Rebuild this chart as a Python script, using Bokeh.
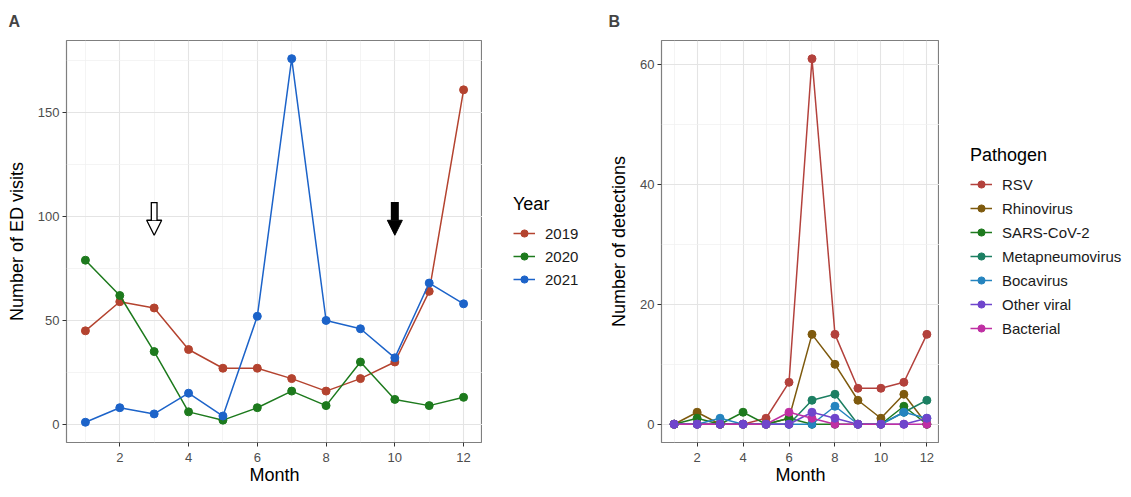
from bokeh.plotting import figure
from bokeh.layouts import row
from bokeh.models import FixedTicker, Legend, LegendItem, Range1d, Arrow, NormalHead
from bokeh.embed import file_html
from bokeh.resources import INLINE

FONT = "Liberation Sans"

months = list(range(1, 13))

# Panel A: ED visits per month by year
years = ["2019", "2020", "2021"]
ed_2019 = [45, 59, 56, 36, 27, 27, 22, 16, 22, 30, 64, 161]
ed_2020 = [79, 62, 35, 6, 2, 8, 16, 9, 30, 12, 9, 13]
ed_2021 = [1, 8, 5, 15, 4, 52, 176, 50, 46, 32, 68, 58]
year_colors = ["#B4432F", "#1D7A1D", "#1C63C9"]

# arrows marking months of interest
arrow_months = [3, 10]
arrow_filled = [False, True]
arrow_top = 107
arrow_tip = 91

# Panel B: detections per month by pathogen
pathogens = ["RSV", "Rhinovirus", "SARS-CoV-2", "Metapneumovirus", "Bocavirus", "Other viral", "Bacterial"]
rsv = [0, 0, 0, 0, 1, 7, 61, 15, 6, 6, 7, 15]
rhinovirus = [0, 2, 0, 0, 0, 1, 15, 10, 4, 1, 5, 0]
sars_cov_2 = [0, 1, 0, 2, 0, 1, 0, 0, 0, 0, 3, 0]
metapneumovirus = [0, 0, 0, 0, 0, 0, 4, 5, 0, 0, 2, 4]
bocavirus = [0, 0, 1, 0, 0, 0, 0, 3, 0, 0, 2, 1]
other_viral = [0, 0, 0, 0, 0, 0, 2, 1, 0, 0, 0, 1]
bacterial = [0, 0, 0, 0, 0, 2, 1, 0, 0, 0, 0, 0]
pathogen_colors = ["#B3413C", "#7E5A0E", "#1E7A1E", "#1C7F62", "#2584BF", "#6F45CC", "#BF2FA3"]

x_major = [2, 4, 6, 8, 10, 12]
x_minor = [1, 3, 5, 7, 9, 11]

H = 490
TOP = 40
BOTTOM = 48


def style(p, y_major, y_minor, ylabel, title, offset):
    p.xaxis.ticker = FixedTicker(ticks=x_major, minor_ticks=x_minor)
    p.yaxis.ticker = FixedTicker(ticks=y_major, minor_ticks=y_minor)
    p.xgrid.ticker = p.xaxis.ticker
    p.ygrid.ticker = p.yaxis.ticker
    for g in (p.xgrid, p.ygrid):
        g.grid_line_color = "#E4E4E4"
        g.grid_line_width = 1.1
        g.minor_grid_line_color = "#EFEFEF"
        g.minor_grid_line_width = 0.7
    for ax in (p.xaxis, p.yaxis):
        ax.axis_line_color = None
        ax.major_tick_in = 0
        ax.major_tick_out = 4
        ax.major_tick_line_color = "#333333"
        ax.major_tick_line_width = 1
        ax.minor_tick_line_color = None
        ax.major_label_text_font = FONT
        ax.major_label_text_font_size = "13px"
        ax.major_label_text_color = "#4D4D4D"
        ax.axis_label_text_font = FONT
        ax.axis_label_text_font_size = "18px"
        ax.axis_label_text_font_style = "normal"
        ax.axis_label_text_color = "black"
        ax.major_label_standoff = 3
        ax.axis_label_standoff = 6
    p.xaxis.major_label_standoff = 6
    p.xaxis.axis_label_standoff = 0
    p.yaxis.axis_label_standoff = 8
    p.xaxis.axis_label = "Month"
    p.yaxis.axis_label = ylabel
    p.outline_line_color = "#7F7F7F"
    p.outline_line_width = 1.2
    p.title.text = title
    p.title.text_font = FONT
    p.title.text_font_size = "16px"
    p.title.text_font_style = "bold"
    p.title.align = "left"
    p.title.offset = offset
    p.title.standoff = 21
    p.background_fill_color = "white"
    p.border_fill_color = "white"


def legend_figure(width, title, names, series, colors, spacing):
    lf = figure(width=width, height=H, output_backend="svg", toolbar_location=None,
                x_axis_type=None, y_axis_type=None,
                min_border_left=0, min_border_right=0, min_border_top=TOP, min_border_bottom=BOTTOM)
    lf.outline_line_color = None
    lf.background_fill_color = "white"
    lf.border_fill_color = "white"
    items = []
    for name, vals, col in zip(names, series, colors):
        lr = lf.line(months, vals, line_color=col, line_width=1.5, visible=False)
        sr = lf.scatter(months, vals, size=8, fill_color=col, line_color=col, visible=False)
        items.append(LegendItem(label=name, renderers=[lr, sr]))
    leg = Legend(items=items, title=title, location="left")
    leg.title_text_font = FONT
    leg.title_text_font_size = "18px"
    leg.title_text_font_style = "normal"
    leg.title_text_color = "black"
    leg.title_standoff = 9
    leg.label_text_font = FONT
    leg.label_text_font_size = "15px"
    leg.label_text_color = "#1A1A1A"
    leg.glyph_width = 22
    leg.glyph_height = 18
    leg.label_height = 18
    leg.label_standoff = 10
    leg.spacing = spacing
    leg.border_line_color = None
    leg.background_fill_alpha = 0
    leg.inactive_fill_alpha = 0
    leg.margin = 31
    leg.padding = 10
    lf.add_layout(leg, "center")
    return lf


# ---------- Panel A ----------
pA = figure(width=482, height=H, output_backend="svg", toolbar_location=None,
            x_range=Range1d(0.45, 12.55), y_range=Range1d(-8.75, 184.75),
            min_border_left=66, min_border_right=0, min_border_top=TOP, min_border_bottom=BOTTOM)
style(pA, [0, 50, 100, 150], [25, 75, 125, 175], "Number of ED visits", "A", -58)

seriesA = [ed_2019, ed_2020, ed_2021]
for vals, col in zip(seriesA, year_colors):
    pA.line(months, vals, line_color=col, line_width=1.5)
    pA.scatter(months, vals, size=8, fill_color=col, line_color=col)

for m, filled in zip(arrow_months, arrow_filled):
    if filled:
        pA.add_layout(Arrow(end=NormalHead(size=15, fill_color="black", line_color="black", line_width=1),
                            x_start=m, y_start=arrow_top, x_end=m, y_end=arrow_tip,
                            line_color="black", line_width=8))
    else:
        pA.add_layout(Arrow(end=NormalHead(size=15, fill_color="white", line_color="black", line_width=1.3),
                            x_start=m, y_start=arrow_top, x_end=m, y_end=arrow_tip,
                            line_color="black", line_width=7))
        pA.add_layout(Arrow(end=NormalHead(size=15, fill_alpha=0, line_alpha=0),
                            x_start=m, y_start=arrow_top - 0.6, x_end=m, y_end=arrow_tip,
                            line_color="white", line_width=4.4))

legA = legend_figure(124, "Year", years, seriesA, year_colors, 5)

# ---------- Panel B ----------
pB = figure(width=333, height=H, output_backend="svg", toolbar_location=None,
            x_range=Range1d(0.45, 12.55), y_range=Range1d(-3.05, 64.05),
            min_border_left=53, min_border_right=0, min_border_top=TOP, min_border_bottom=BOTTOM)
style(pB, [0, 20, 40, 60], [10, 30, 50], "Number of detections", "B", -53)

seriesB = [rsv, rhinovirus, sars_cov_2, metapneumovirus, bocavirus, other_viral, bacterial]
for vals, col in zip(seriesB, pathogen_colors):
    pB.line(months, vals, line_color=col, line_width=1.5)
draw_order = [0, 1, 2, 3, 4, 6, 5]
for i in draw_order:
    col = pathogen_colors[i]
    pB.scatter(months, seriesB[i], size=8, fill_color=col, line_color=col)

legB = legend_figure(190, "Pathogen", pathogens, seriesB, pathogen_colors, 6)

layout = row(pA, legA, pB, legB)
open("out.html", "w").write(file_html(layout, INLINE))
